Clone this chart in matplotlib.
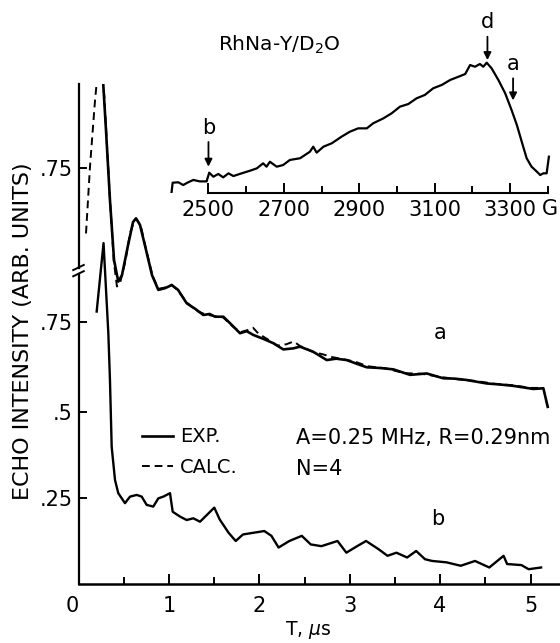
import matplotlib
matplotlib.use("Agg")
import matplotlib.pyplot as plt

# ---------------------------------------------------------------
# Echo decay, trace a (top, offset) : experiment and calculation
t_a_exp = [0.271, 0.304, 0.348, 0.393, 0.440, 0.481, 0.548, 0.603, 0.636, 0.680,
           0.747, 0.813, 0.883, 0.957, 1.031, 1.101, 1.197, 1.29, 1.381, 1.45,
           1.510, 1.602, 1.70, 1.786, 1.86, 1.934, 2.05, 2.155, 2.265, 2.376,
           2.450, 2.597, 2.746, 2.85, 2.967, 3.08, 3.188, 3.33, 3.482, 3.667,
           3.852, 4.035, 4.16, 4.294, 4.515, 4.66, 4.810, 5.031, 5.142, 5.190]
a_exp = [1.465, 1.320, 1.116, 0.942, 0.879, 0.898, 0.985, 1.052, 1.063, 1.044,
         0.971, 0.898, 0.855, 0.860, 0.869, 0.855, 0.816, 0.800, 0.782, 0.785,
         0.777, 0.777, 0.752, 0.729, 0.735, 0.724, 0.712, 0.700, 0.682, 0.685,
         0.690, 0.675, 0.651, 0.655, 0.651, 0.640, 0.630, 0.628, 0.624, 0.608,
         0.612, 0.598, 0.597, 0.593, 0.583, 0.580, 0.576, 0.567, 0.569, 0.515]

t_a_calc = [0.083, 0.127, 0.183, 0.21, 0.25, 0.285, 0.31, 0.35, 0.39, 0.425,
            0.46, 0.52, 0.57, 0.62, 0.645, 0.69, 0.75, 0.82, 0.883, 0.96,
            1.03, 1.10, 1.2, 1.3, 1.4, 1.5, 1.6, 1.7, 1.79, 1.87,
            1.93, 1.99, 2.1, 2.2, 2.3, 2.38, 2.45, 2.6, 2.7, 2.8,
            2.95, 3.05, 3.2, 3.4, 3.6, 3.8, 4.0, 4.2, 4.4, 4.6,
            4.8, 5.0, 5.14]
a_calc = [1.019, 1.213, 1.407, 1.48, 1.50, 1.42, 1.30, 1.11, 0.94, 0.865,
          0.875, 0.94, 1.02, 1.058, 1.06, 1.04, 0.97, 0.895, 0.858, 0.862,
          0.87, 0.853, 0.818, 0.795, 0.784, 0.779, 0.775, 0.750, 0.732, 0.738,
          0.745, 0.728, 0.710, 0.693, 0.697, 0.705, 0.692, 0.674, 0.668, 0.660,
          0.652, 0.647, 0.633, 0.627, 0.613, 0.611, 0.602, 0.595, 0.590, 0.582,
          0.578, 0.570, 0.570]

# Echo decay, trace b (bottom)
t_b = [0.201, 0.277, 0.330, 0.348, 0.367, 0.404, 0.440, 0.514, 0.570, 0.644,
       0.699, 0.754, 0.827, 0.883, 0.938, 1.012, 1.042, 1.123, 1.197, 1.270,
       1.344, 1.421, 1.502, 1.561, 1.660, 1.739, 1.819, 1.937, 2.055, 2.134,
       2.213, 2.332, 2.470, 2.569, 2.687, 2.865, 2.963, 3.082, 3.181, 3.320,
       3.418, 3.517, 3.635, 3.735, 3.833, 3.911, 4.070, 4.228, 4.386, 4.544,
       4.702, 4.741, 4.899, 4.979, 5.117]
b_exp = [0.792, 0.991, 0.729, 0.593, 0.399, 0.302, 0.264, 0.235, 0.254, 0.259,
         0.254, 0.230, 0.225, 0.249, 0.254, 0.264, 0.210, 0.196, 0.186, 0.191,
         0.181, 0.201, 0.222, 0.188, 0.149, 0.125, 0.144, 0.149, 0.154, 0.140,
         0.106, 0.125, 0.140, 0.115, 0.110, 0.125, 0.091, 0.110, 0.125, 0.101,
         0.082, 0.091, 0.077, 0.096, 0.072, 0.067, 0.063, 0.053, 0.067, 0.048,
         0.082, 0.058, 0.055, 0.043, 0.048]

# Inset: field-swept echo spectrum
field = [2402, 2405, 2420, 2433, 2446, 2460, 2477, 2495, 2502, 2513,
         2526, 2539, 2553, 2566, 2588, 2610, 2628, 2645, 2654, 2663,
         2681, 2698, 2716, 2743, 2769, 2778, 2787, 2805, 2827, 2853,
         2875, 2897, 2920, 2937, 2964, 2986, 3008, 3030, 3052, 3074,
         3096, 3119, 3141, 3163, 3181, 3194, 3207, 3220, 3229, 3238,
         3251, 3269, 3287, 3304, 3318, 3331, 3344, 3357, 3371, 3380,
         3388, 3397, 3403]
esr = [0.0, 0.077, 0.08, 0.059, 0.08, 0.098, 0.087, 0.087, 0.154, 0.123,
       0.144, 0.118, 0.149, 0.128, 0.149, 0.169, 0.187, 0.226, 0.2, 0.238,
       0.2, 0.213, 0.252, 0.265, 0.315, 0.354, 0.308, 0.354, 0.38, 0.431,
       0.469, 0.495, 0.495, 0.534, 0.572, 0.611, 0.662, 0.682, 0.726, 0.752,
       0.803, 0.829, 0.867, 0.892, 0.913, 0.982, 0.969, 0.99, 0.969, 1.0,
       0.957, 0.867, 0.765, 0.636, 0.521, 0.392, 0.265, 0.2, 0.162, 0.136,
       0.149, 0.149, 0.277]

y_ticks = [0.25, 0.5, 0.762, 1.208]
y_labels = ['.25', '.5', '.75', '.75']
field_ticks = [2500, 2700, 2900, 3100, 3300]

plt.rcParams['font.family'] = 'DejaVu Sans'
plt.rcParams['font.size'] = 14

fig = plt.figure(figsize=(5.6, 6.43), dpi=100)
ax = fig.add_axes([78.5 / 560, 59 / 643, 481.5 / 560, 500 / 643])

ax.plot(t_a_exp, a_exp, '-k', lw=1.9, label='EXP.')
ax.plot(t_a_calc, a_calc, color='k', lw=1.4, ls=(0, (4, 2.5)), label='CALC.')
ax.plot(t_b, b_exp, '-k', lw=1.7)

ax.set_xlim(0, 5.326)
ax.set_ylim(0, 1.4535)

for s in ['top', 'right']:
    ax.spines[s].set_visible(False)
ax.spines['bottom'].set_linewidth(1.8)
ax.spines['left'].set_linewidth(1.6)
ax.spines['left'].set_bounds(0, 0.902)
# upper part of the broken y axis
ax.plot([0, 0], [0.92, 1.4535], color='k', lw=1.6, clip_on=False,
        transform=ax.get_yaxis_transform())
# break marks
for off in (-0.009, 0.009):
    ax.plot([-0.011, 0.011], [0.911 + off - 0.0075, 0.911 + off + 0.0075],
            color='k', lw=1.4, clip_on=False, transform=ax.get_yaxis_transform())

ax.set_xticks([0, 1, 2, 3, 4, 5])
ax.set_xticklabels(['0', '1', '2', '3', '4', '5'])
ax.set_xticks([0.5, 1.5, 2.5, 3.5, 4.5, 5.0], minor=True)
ax.get_xticklabels()[0].set_ha('right')
ax.tick_params(axis='x', which='major', direction='in', length=7, width=1.4,
               pad=9, labelsize=15)
ax.tick_params(axis='x', which='minor', direction='in', length=5, width=1.4)

ax.set_yticks(y_ticks)
ax.set_yticklabels(y_labels)
ax.tick_params(axis='y', direction='in', length=6, width=1.4, pad=4, labelsize=15)

ax.set_xlabel('T, $\\mu$s', fontsize=13.5)
ax.xaxis.set_label_coords(0.477, -0.07)
ax.set_ylabel('ECHO INTENSITY (ARB. UNITS)', fontsize=16)
ax.yaxis.set_label_coords(-0.0945, 0.506)

leg = ax.legend(loc='upper left', bbox_to_anchor=(0.132, 0.313), frameon=False,
                borderpad=0, borderaxespad=0, handlelength=1.6,
                handletextpad=0.35, labelspacing=0.6, fontsize=14)

ax.text(2.406, 0.425, 'A=0.25 MHz, R=0.29nm', ha='left', va='center', fontsize=15)
ax.text(2.406, 0.333, 'N=4', ha='left', va='center', fontsize=15)
ax.text(4.0, 0.729, 'a', ha='center', va='center', fontsize=15)
ax.text(3.97, 0.189, 'b', ha='center', va='center', fontsize=15)

# ---------------------------------------------------------------
# Inset spectrum
ax2 = fig.add_axes([167.0 / 560, (643 - 192.7) / 643, 388.3 / 560, 136.5 / 643])
ax2.patch.set_visible(False)
ax2.plot(field, esr, '-k', lw=1.6)
ax2.set_xlim(2390, 3420)
ax2.set_ylim(0, 1.05)
for s in ['top', 'right', 'left']:
    ax2.spines[s].set_visible(False)
ax2.spines['bottom'].set_linewidth(1.5)
ax2.spines['bottom'].set_bounds(2500, 3400)
ax2.set_yticks([])
ax2.set_xticks(field_ticks)
ax2.set_xticklabels([str(f) for f in field_ticks])
ax2.set_xticks([2600, 2800, 3000, 3200, 3400], minor=True)
ax2.tick_params(axis='x', which='major', direction='in', length=7, width=1.4,
                pad=5, labelsize=15)
ax2.tick_params(axis='x', which='minor', direction='in', length=5, width=1.4)
ax2.text(3426, -0.12, 'G', ha='right', va='center', fontsize=15,
         transform=ax2.get_xaxis_transform(), clip_on=False)

arrow_kw = dict(arrowstyle='-|>', color='k', lw=1.3, mutation_scale=11,
                shrinkA=0, shrinkB=0)
for fx, y0, y1, lab in [(2500, 0.39, 0.20, 'b'), (3240, 1.20, 1.02, 'd'),
                        (3308, 0.88, 0.71, 'a')]:
    ax2.annotate('', xy=(fx, y1), xytext=(fx, y0), arrowprops=arrow_kw,
                 annotation_clip=False)
    ax2.text(fx, y0 + 0.11, lab, ha='center', va='center', fontsize=15, clip_on=False)

fig.text(279 / 560, 1 - 45 / 643, 'RhNa-Y/D$_2$O', ha='center', va='center', fontsize=14.5)

fig.savefig('out.png', dpi=100)
